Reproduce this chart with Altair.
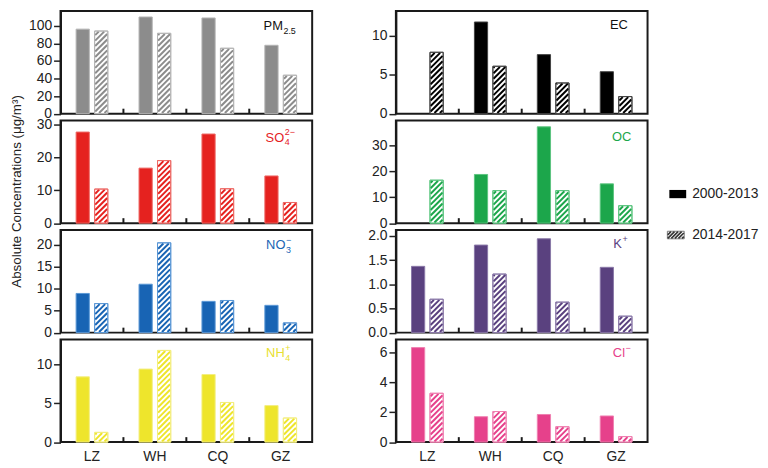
import altair as alt
import pandas as pd

# ---------------- data ----------------
sites = ["LZ", "WH", "CQ", "GZ"]
periods = ["2000-2013", "2014-2017"]

pm25_early = [96.2, 110.0, 108.9, 77.8]
pm25_late = [94.0, 91.4, 74.4, 43.7]
so4_early = [27.8, 16.8, 27.2, 14.4]
so4_late = [10.4, 19.1, 10.5, 6.3]
no3_early = [8.9, 11.0, 7.1, 6.2]
no3_late = [6.6, 20.4, 7.3, 2.2]
nh4_early = [8.4, 9.4, 8.7, 4.7]
nh4_late = [1.25, 11.8, 5.1, 3.1]
ec_early = [None, 11.8, 7.6, 5.4]
ec_late = [7.9, 6.1, 3.95, 2.2]
oc_early = [None, 18.7, 37.0, 15.1]
oc_late = [16.5, 12.5, 12.5, 6.7]
k_early = [1.37, 1.81, 1.94, 1.35]
k_late = [0.69, 1.21, 0.63, 0.34]
cl_early = [6.33, 1.70, 1.85, 1.75]
cl_late = [3.27, 2.05, 1.03, 0.37]

y_title = "Absolute Concentrations (μg/m³)"

# ---------------- style ----------------
FONT = "Liberation Sans"
W, H = 254, 103.5
XU = W / 4.0          # pixels per site slot
BW = 0.21             # bar width (slot units)
GAP = 0.042           # half gap between paired bars
PERIOD = 5.5          # hatch period (px)
LS = 13               # label font size

EM = {"P": .667, "M": .833, "S": .667, "O": .778, "N": .722, "H": .722,
      "E": .667, "C": .722, "K": .667, "l": .222}


def text_w(t, s):
    return sum(EM.get(ch, .556) for ch in t) * s


def stripes(x0, w, y0, h, period, inset=0.6):
    x0 += inset; w -= 2 * inset; y0 += inset; h -= 2 * inset
    out = []
    if w <= 0 or h <= 0:
        return out
    t = -w + period / 2
    while t < h:
        if t >= 0:
            xa, ya = x0, y0 + t
        else:
            xa, ya = x0 - t, y0
        if t + w <= h:
            xb, yb = x0 + w, y0 + t + w
        else:
            xb, yb = x0 + (h - t), y0 + h
        if xb - xa > 0.3:
            out.append((xa, ya, xb, yb))
        t += period
    return out


panels = [
    dict(early=pm25_early, late=pm25_late, color="#8c8c8c", edge="#b4b4b4", ymax=116.7,
         ticks=[0, 20, 40, 60, 80, 100], fmt="d", main="PM", sub="2.5", sup=None,
         lx=205, ly=19.5, lcolor="#111111"),
    dict(early=ec_early, late=ec_late, color="#000000", edge="#444444", ymax=13.2,
         ticks=[0, 5, 10], fmt="d", main="EC", sub=None, sup=None,
         lx=216, ly=18.5, lcolor="#111111"),
    dict(early=so4_early, late=so4_late, color="#e5221f", edge="#ee6a66", ymax=31.3,
         ticks=[0, 10, 20, 30], fmt="d", main="SO", sub="4", sup="2−",
         lx=207, ly=21.5, lcolor="#e5221f"),
    dict(early=oc_early, late=oc_late, color="#1ca64b", edge="#5cc47f", ymax=39.4,
         ticks=[0, 10, 20, 30], fmt="d", main="OC", sub=None, sup=None,
         lx=218, ly=21, lcolor="#1ca64b"),
    dict(early=no3_early, late=no3_late, color="#1864b4", edge="#5b98d6", ymax=23.3,
         ticks=[0, 5, 10, 15, 20], fmt="d", main="NO", sub="3", sup="−",
         lx=207.5, ly=19.5, lcolor="#1864b4"),
    dict(early=k_early, late=k_late, color="#5a417f", edge="#8a78a8", ymax=2.12,
         ticks=[0, 0.5, 1.0, 1.5, 2.0], fmt=".1f", main="K", sub=None, sup="+",
         lx=219.5, ly=18.5, lcolor="#5a417f"),
    dict(early=nh4_early, late=nh4_late, color="#eee52c", edge="#f3ee80", ymax=13.2,
         ticks=[0, 5, 10], fmt="d", main="NH", sub="4", sup="+",
         lx=207.5, ly=18, lcolor="#e8e030"),
    dict(early=cl_early, late=cl_late, color="#e6418b", edge="#ef7fb0", ymax=6.87,
         ticks=[0, 2, 4, 6], fmt="d", main="Cl", sub=None, sup="−",
         lx=219, ly=18, lcolor="#e6418b"),
]

one = pd.DataFrame({"a": [0]})


def txt(t, x, y, size, color, align="left", baseline="alphabetic", angle=0):
    return alt.Chart(one).mark_text(
        text=t, font=FONT, fontSize=size, color=color, align=align,
        baseline=baseline, angle=angle
    ).encode(x=alt.value(x), y=alt.value(y))


def build(cfg, bottom, ytitle=False, legend=False):
    M = cfg["ymax"]
    ys = alt.Scale(domain=[0, M], nice=False, zero=True)
    xs = alt.Scale(domain=[-0.5, 3.5], nice=False, zero=False)
    yaxis = alt.Axis(values=cfg["ticks"], format=cfg["fmt"], title=None)

    def X(f):
        return alt.X(f"{f}:Q", scale=xs, axis=None)

    def Y(f):
        return alt.Y(f"{f}:Q", scale=ys, axis=yaxis)

    early_rows, late_rows, stripe_rows = [], [], []
    for i, (s, ve, vl) in enumerate(zip(sites, cfg["early"], cfg["late"])):
        if ve is not None:
            early_rows.append({"site": s, "period": periods[0], "x0": i - GAP - BW, "x1": i - GAP,
                               "v": ve, "z": 0.0})
        if vl is not None:
            x0, x1 = i + GAP, i + GAP + BW
            late_rows.append({"site": s, "period": periods[1], "x0": x0, "x1": x1, "v": vl, "z": 0.0})
            for (xa, ya, xb, yb) in stripes((x0 + 0.5) * XU, BW * XU, 0, vl * H / M, PERIOD):
                stripe_rows.append({"xa": xa / XU - 0.5, "xb": xb / XU - 0.5,
                                    "ya": ya * M / H, "yb": yb * M / H})
    early_df = pd.DataFrame(early_rows)
    late_df = pd.DataFrame(late_rows)
    stripe_df = pd.DataFrame(stripe_rows)

    layers = []
    layers.append(alt.Chart(early_df).mark_rect(
        color=cfg["color"], stroke=cfg["edge"], strokeWidth=1
    ).encode(x=X("x0"), x2="x1:Q", y=Y("v"), y2="z:Q"))
    layers.append(alt.Chart(late_df).mark_rect(
        fill="white", stroke=cfg["edge"], strokeWidth=1
    ).encode(x=X("x0"), x2="x1:Q", y=Y("v"), y2="z:Q"))
    layers.append(alt.Chart(stripe_df).mark_rule(
        color=cfg["color"], strokeWidth=2, strokeCap="butt"
    ).encode(x=X("xa"), x2="xb:Q", y=Y("ya"), y2="yb:Q"))
    layers.append(alt.Chart(late_df).mark_rect(
        fillOpacity=0, stroke=cfg["edge"], strokeWidth=1
    ).encode(x=X("x0"), x2="x1:Q", y=Y("v"), y2="z:Q"))

    # inward ticks between sites
    bounds_df = pd.DataFrame({"b": [i + 0.5 for i in range(len(sites) - 1)]})
    layers.append(alt.Chart(bounds_df).mark_rule(color="#1a1a1a", strokeWidth=2).encode(
        x=X("b"), y=alt.value(H), y2=alt.value(H - 5)))

    # panel label with sub/superscripts
    lx, ly = cfg["lx"], cfg["ly"]
    layers.append(txt(cfg["main"], lx, ly, LS, cfg["lcolor"]))
    dx = lx + text_w(cfg["main"], LS) + 0.5
    if cfg["sub"]:
        layers.append(txt(cfg["sub"], dx, ly + 3.5, 9, cfg["lcolor"]))
    if cfg["sup"]:
        layers.append(txt(cfg["sup"], dx, ly - 6.5, 9, cfg["lcolor"]))

    if bottom:
        site_df = pd.DataFrame({"site": sites, "idx": list(range(len(sites)))})
        layers.append(alt.Chart(site_df).mark_text(
            font=FONT, fontSize=14, color="#222222", baseline="alphabetic"
        ).encode(x=X("idx"), y=alt.value(H + 19.5), text="site:N"))

    if ytitle:
        layers.append(txt(y_title, -44, 71.5, 13.5, "#222222", align="center",
                          baseline="middle", angle=270))

    if legend:
        layers.append(alt.Chart(one).mark_rect(color="#000000").encode(
            x=alt.value(276), x2=alt.value(293), y=alt.value(70), y2=alt.value(78.3)))
        layers.append(txt(periods[0], 299, 74.5, 14, "#222222", baseline="middle"))
        # hatched legend symbol
        lx0, lx1, ly0, ly1 = 274.0, 291.0, 111.7, 119.3
        leg_box = pd.DataFrame({"x0": [lx0 / XU - 0.5], "x1": [lx1 / XU - 0.5],
                                "y0": [(H - ly1) * M / H], "y1": [(H - ly0) * M / H]})
        leg_str = pd.DataFrame([
            {"xa": xa / XU - 0.5, "xb": xb / XU - 0.5, "ya": ya * M / H, "yb": yb * M / H}
            for (xa, ya, xb, yb) in stripes(lx0, lx1 - lx0, H - ly1, ly1 - ly0, 3.6, inset=0.4)
        ])
        layers.append(alt.Chart(leg_box).mark_rect(fill="white", stroke="#777777", strokeWidth=1).encode(
            x=X("x0"), x2="x1:Q", y=Y("y0"), y2="y1:Q"))
        layers.append(alt.Chart(leg_str).mark_rule(color="#333333", strokeWidth=1.6, strokeCap="butt").encode(
            x=X("xa"), x2="xb:Q", y=Y("ya"), y2="yb:Q"))
        layers.append(txt(periods[1], 299, 115.5, 14, "#222222", baseline="middle"))

    return alt.layer(*layers).properties(width=W, height=H)


charts = []
for k, cfg in enumerate(panels):
    charts.append(build(cfg, bottom=(k >= 6), ytitle=(k == 2), legend=(k == 3)))

chart = alt.concat(*charts, columns=2, spacing={"row": 6.5, "column": 84.5}, bounds="flush").properties(
    padding={"left": 0, "top": 0, "right": 0, "bottom": 0}
).configure_view(
    stroke="#1a1a1a", strokeWidth=2
).configure_axis(
    labelFont=FONT, labelFontSize=14, labelColor="#222222", tickColor="#222222",
    domainColor="#1a1a1a", domainWidth=2, tickWidth=1.5, tickSize=7, labelPadding=2,
    grid=False
)

chart.save("out.html", embed_options={"renderer": "svg", "actions": False})
